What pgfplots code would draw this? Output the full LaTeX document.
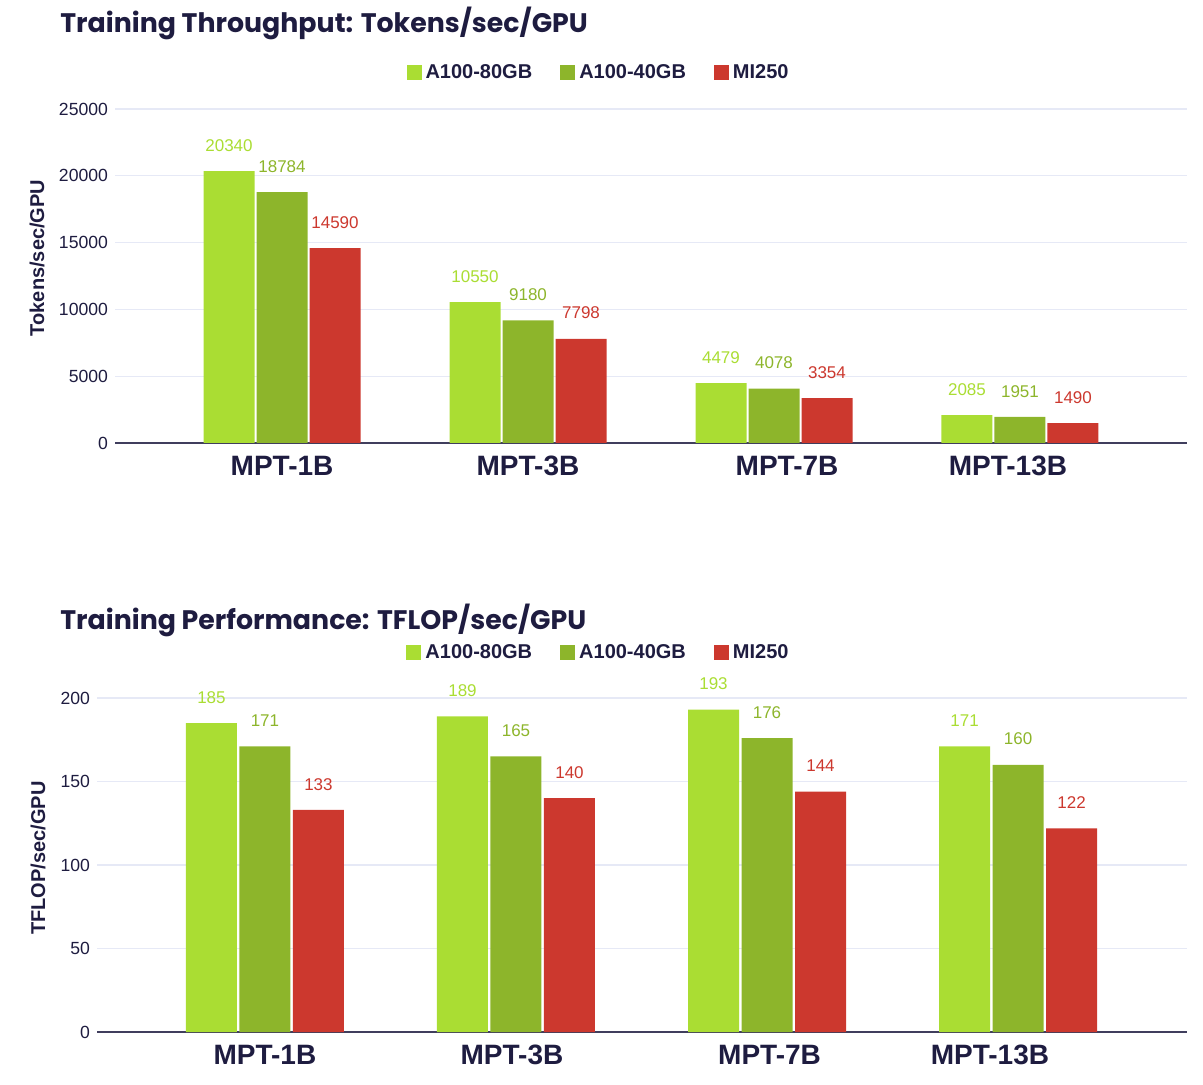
\documentclass[border=0pt]{standalone}
\usepackage{pgfplots}
\pgfplotsset{compat=1.18}
\usepackage{fontspec}
\setmainfont{Liberation Sans}
\newfontfamily\titlefont{Poppins}
\definecolor{lg}{HTML}{AADD33}
\definecolor{dg}{HTML}{8DB52B}
\definecolor{rd}{HTML}{CC382E}
\definecolor{navy}{HTML}{1E1C40}
\definecolor{gridc}{HTML}{E6E9F6}

\pgfplotsset{
 mystyle/.style={
  scale only axis,
  ybar,
  clip=false,
  axis x line*=bottom, axis y line*=left,
  y axis line style={draw=none},
  x axis line style={navy!85, line width=0.8pt, -},
  ymajorgrids, grid style={gridc, line width=0.6pt},
  major tick length=0pt,
  ymin=0,
  scaled y ticks=false,
  tick label style={font=\fontsize{8.8}{10}\selectfont, text=navy},
  /pgf/number format/assume math mode=true,
  /pgf/number format/1000 sep={},
  xticklabel style={font=\fontsize{14}{16}\selectfont\bfseries, text=navy, yshift=-3pt},
  ylabel style={font=\fontsize{10}{12}\selectfont\bfseries, text=navy, anchor=center},
  nodes near coords,
  every node near coord/.append style={font=\fontsize{8.5}{10}\selectfont, anchor=south, yshift=6.3pt},
  legend style={draw=none, fill=none, legend columns=3, anchor=center,
    font=\fontsize{10}{12}\selectfont\bfseries, text=navy,
    /tikz/every even column/.append style={column sep=12pt}},
  legend image code/.code={\fill[##1] (0pt,-3.75pt) rectangle (7.5pt,3.75pt);},
  bar width=25.5pt,
 }
}

\begin{document}
\begin{tikzpicture}
\useasboundingbox (0,0) rectangle (601.5pt,542.5pt);

\node[anchor=west, inner sep=0pt, text=navy, font=\titlefont\bfseries\fontsize{13.4}{16}\selectfont] at (30pt,531pt) {Training Throughput: Tokens/sec/GPU};
\node[anchor=west, inner sep=0pt, text=navy, font=\titlefont\bfseries\fontsize{13.4}{16}\selectfont] at (30pt,232.5pt) {Training Performance: TFLOP/sec/GPU};

\begin{axis}[mystyle,
  at={(57.5pt,321pt)}, anchor=south west,
  width=536pt, height=167pt,
  xmin=-0.679, xmax=3.679,
  ymax=25000, ytick={0,5000,...,25000},
  xtick={0,1,2.053,2.951},
  xticklabels={MPT-1B,MPT-3B,MPT-7B,MPT-13B},
  ylabel={Tokens/sec/GPU},
  ylabel style={at={(axis description cs:-0.0728,0.554)}},
  legend style={at={(axis description cs:0.452,1.108)}},
]
\addplot[fill=lg, draw=none, bar shift=-26.5pt, every node near coord/.append style={text=lg}]
  coordinates {(0,20340) (1,10550) (2,4479) (3,2085)};
\addplot[fill=dg, draw=none, bar shift=0pt, every node near coord/.append style={text=dg}]
  coordinates {(0,18784) (1,9180) (2,4078) (3,1951)};
\addplot[fill=rd, draw=none, bar shift=26.5pt, every node near coord/.append style={text=rd}]
  coordinates {(0,14590) (1,7798) (2,3354) (3,1490)};
\legend{A100-80GB, A100-40GB, MI250}
\end{axis}

\begin{axis}[mystyle,
  at={(48.5pt,26.5pt)}, anchor=south west,
  width=545pt, height=167pt,
  xmin=-0.669, xmax=3.673,
  ymax=200, ytick={0,50,...,200},
  xtick={0,0.984,2.01,2.888},
  xticklabels={MPT-1B,MPT-3B,MPT-7B,MPT-13B},
  ylabel={TFLOP/sec/GPU},
  ylabel style={at={(axis description cs:-0.054,0.521)}},
  legend style={at={(axis description cs:0.461,1.135)}},
]
\addplot[fill=lg, draw=none, bar shift=-26.75pt, every node near coord/.append style={text=lg}]
  coordinates {(0,185) (1,189) (2,193) (3,171)};
\addplot[fill=dg, draw=none, bar shift=0pt, every node near coord/.append style={text=dg}]
  coordinates {(0,171) (1,165) (2,176) (3,160)};
\addplot[fill=rd, draw=none, bar shift=26.75pt, every node near coord/.append style={text=rd}]
  coordinates {(0,133) (1,140) (2,144) (3,122)};
\legend{A100-80GB, A100-40GB, MI250}
\end{axis}
\end{tikzpicture}
\end{document}
